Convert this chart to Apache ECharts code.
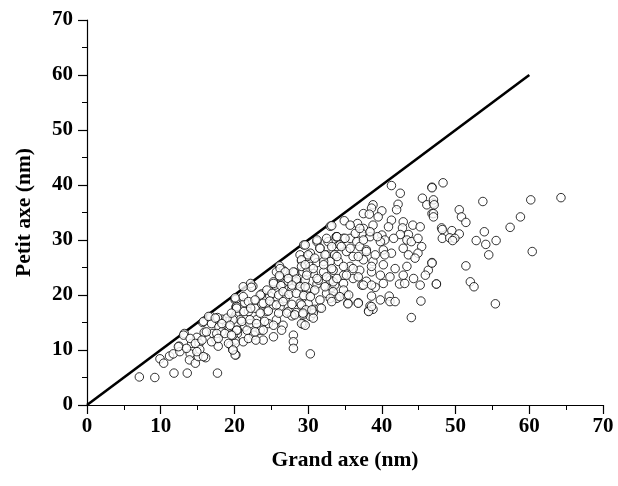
<!DOCTYPE html>
<html>
<head>
<meta charset="utf-8">
<script src="https://cdn.jsdelivr.net/npm/echarts@6/dist/echarts.min.js"></script>
<style>
  html, body { margin: 0; padding: 0; background: #fff; }
  #chart { width: 618px; height: 486px; }
</style>
</head>
<body>
<div id="chart"></div>
<script>
// grand axe (x), petit axe (y), in nm
const grandAxe = [
  7.1, 9.2, 11.8, 13.6, 17.7, 9.9, 10.4, 11.2, 11.7, 12.5, 13.2, 12.6, 14.2, 14.0, 13.9, 14.7, 15.1, 14.9, 15.2, 15.3,
  16.1, 15.7, 15.9, 16.8, 16.9, 17.1, 17.5, 17.8, 17.9, 18.3, 19.0, 19.3, 19.5, 19.8, 20.2, 20.1, 20.2, 20.2, 20.4, 20.1,
  18.3, 17.7,
  20.2, 21.2, 22.5, 23.7, 24.8, 25.5, 26.6, 27.8, 28.9, 29.8, 31.2, 32.5, 33.2, 20.3, 21.4, 21.9, 22.8, 23.7, 24.4, 25.3,
  26.2, 26.9, 27.3, 28.4, 28.9, 29.4, 30.0, 30.9, 31.6, 19.9, 20.8, 21.4, 20.4, 22.1, 23.0, 23.5, 22.6, 21.2, 20.1, 19.8,
  21.9, 23.9, 22.9, 25.3, 24.6, 25.7, 26.6, 28.0, 28.0, 28.0, 29.3, 30.3, 20.1, 27.8, 30.3, 30.7,
  33.6, 34.8, 33.4, 33.9, 35.2, 35.4, 36.8, 37.3, 38.6, 38.4, 38.2, 38.8, 39.1, 40.2, 39.8, 41.0, 41.1, 41.8, 42.4, 44.0,
  45.3, 45.2, 47.4, 43.1,
  33.0, 29.4, 26.1, 26.6, 25.7, 26.2, 22.2, 28.2, 29.3, 28.9, 29.9, 29.1, 30.3, 31.2, 31.6, 32.7, 32.5, 33.8, 33.9, 31.2,
  33.0, 30.7, 32.1, 33.4, 31.4, 33.0, 28.4, 25.3, 27.3, 30.3, 32.1,
  41.3, 42.5, 46.8, 45.5, 46.1, 47.0, 38.8, 38.6, 40.0, 42.2, 42.0, 46.8, 37.5, 38.3, 39.5, 34.9, 33.2, 36.7, 38.8, 41.3,
  42.9, 42.8, 44.2, 45.2, 40.9, 43.6, 42.5, 40.0, 40.4, 41.6, 43.4, 44.0, 44.9, 45.4, 37.5, 35.7, 33.9, 34.8, 35.7, 37.3,
  38.4, 36.6, 34.3, 35.2, 37.0, 37.9, 39.8, 40.2, 41.3, 40.4, 42.9, 43.6, 44.9, 44.5, 46.8, 46.3, 45.9, 43.4, 41.8, 40.2,
  38.8, 37.5, 36.1, 34.1, 33.6, 35.7, 37.0, 38.6, 39.8, 41.1, 42.9, 44.3, 34.8, 36.1, 37.9, 33.4,
  48.3, 46.8, 47.0, 47.1, 47.0, 47.0, 53.7, 60.2, 64.3, 50.5, 50.8, 51.4, 58.8, 57.4, 48.1, 48.2, 49.5, 50.5, 48.2, 49.2,
  49.9, 49.6, 53.9, 52.8, 54.1, 55.5, 54.5, 60.4, 46.8, 51.4, 47.4, 52.0, 52.5, 55.4,
  29.1, 29.1, 26.2, 26.9, 28.0, 29.9, 26.1, 27.3, 28.4, 29.6, 25.3, 26.3, 27.8, 28.9, 30.0, 22.3, 23.5, 24.4, 25.1, 26.0,
  26.6, 27.4, 28.4, 29.4, 20.1, 21.2, 21.9, 22.8, 23.9, 24.8, 25.7, 26.6, 27.8, 29.1, 29.7, 20.3, 21.3, 22.2, 23.5, 24.6,
  26.0, 27.1, 28.2, 29.3, 19.8, 21.0, 22.1, 23.0, 24.1, 25.3, 20.3, 21.7, 22.8, 23.9, 26.4, 29.1,
  29.6, 31.2, 32.5, 33.9, 35.0, 36.4, 37.0, 38.4, 39.4, 37.5, 34.5, 35.7, 33.2, 31.6, 30.0, 30.9, 32.3, 33.9, 36.8, 37.9,
  39.1, 29.6, 30.7, 32.1, 33.2, 34.8, 36.1, 38.6, 29.8, 31.2, 32.5, 33.9, 35.2, 36.8, 37.5, 38.6, 29.6, 30.9, 32.3, 33.4,
  34.8, 33.0, 34.3, 35.5, 30.3, 31.6,
  15.8, 16.5, 17.4, 19.0, 19.6, 18.3, 19.4, 16.2, 17.6, 18.7, 19.6, 13.1, 14.0, 14.7, 15.6, 16.9, 17.8, 19.2, 12.4, 13.5,
  14.9, 15.8, 19.8,
  29.6, 29.3, 30.7, 30.5, 31.8, 33.2, 35.4, 36.8, 38.2, 38.6
];
const petitAxe = [
  5.1, 5.0, 5.8, 5.8, 5.8, 8.4, 7.6, 8.9, 9.3, 10.7, 13.0, 9.7, 11.2, 9.3, 8.2, 7.6, 8.8, 12.3, 11.2, 10.1,
  8.6, 15.0, 13.2, 16.1, 14.8, 13.0, 11.9, 10.7, 14.2, 13.3, 15.2, 14.2, 10.9, 10.0, 9.1, 19.1, 17.8, 16.4, 13.0, 11.8,
  15.6, 15.9,
  19.2, 21.5, 21.6, 20.2, 19.8, 21.8, 22.1, 21.2, 22.1, 20.9, 22.0, 20.3, 21.4, 17.9, 18.6, 17.0, 17.6, 18.4, 17.0, 18.2,
  17.9, 19.4, 17.0, 16.8, 18.5, 16.8, 18.4, 17.4, 17.7, 15.8, 15.5, 14.2, 13.6, 14.8, 15.5, 13.6, 12.7, 11.5, 11.2, 12.7,
  12.1, 11.8, 11.8, 12.4, 14.8, 15.5, 14.5, 12.7, 11.5, 10.3, 14.7, 9.3, 9.1, 16.2, 16.1, 16.7,
  21.8, 22.1, 19.7, 19.4, 20.0, 18.5, 18.6, 21.8, 19.8, 18.0, 17.1, 17.4, 21.4, 22.1, 19.1, 19.8, 18.8, 18.8, 22.0, 15.9,
  18.9, 21.8, 22.0, 22.1,
  32.5, 29.1, 25.3, 24.5, 24.2, 23.3, 22.1, 24.1, 24.2, 27.3, 27.0, 26.2, 25.2, 29.7, 28.5, 29.7, 27.3, 30.6, 28.8, 25.9,
  26.1, 23.9, 24.2, 24.5, 22.7, 22.7, 22.4, 22.4, 22.5, 27.6, 26.1,
  39.9, 38.5, 39.6, 37.6, 36.4, 36.7, 36.4, 35.8, 35.3, 36.5, 35.5, 34.8, 34.8, 34.7, 34.2, 33.5, 32.6, 33.0, 32.7, 33.6,
  33.3, 32.2, 32.7, 32.4, 32.4, 31.0, 31.0, 30.9, 30.0, 30.3, 30.0, 29.7, 30.3, 28.8, 32.1, 32.7, 30.6, 30.3, 30.3, 31.2,
  30.6, 29.7, 29.1, 27.9, 28.8, 28.2, 29.7, 28.2, 27.6, 27.3, 28.5, 27.3, 27.6, 26.7, 25.9, 24.5, 23.6, 25.2, 24.8, 25.5,
  26.1, 26.4, 27.0, 26.1, 27.3, 25.2, 24.5, 24.2, 23.6, 23.3, 23.6, 23.0, 23.6, 23.0, 22.5, 22.4,
  40.4, 39.5, 37.3, 36.4, 34.8, 34.2, 37.0, 37.3, 37.7, 35.5, 34.2, 33.2, 34.2, 32.3, 32.2, 31.9, 31.7, 31.1, 30.3, 30.4,
  30.3, 29.9, 31.5, 29.9, 29.2, 29.9, 27.3, 27.9, 25.8, 25.3, 22.0, 22.4, 21.5, 18.4,
  26.4, 25.2, 24.8, 24.2, 24.2, 24.2, 23.5, 23.0, 22.9, 22.7, 22.1, 21.7, 21.8, 21.5, 21.3, 21.4, 20.0, 20.9, 20.3, 20.0,
  20.6, 20.1, 20.3, 19.9, 19.5, 19.7, 18.8, 19.1, 18.5, 18.9, 18.2, 18.8, 18.3, 18.2, 17.3, 17.6, 17.0, 17.6, 16.7, 17.1,
  16.7, 16.7, 16.4, 16.4, 15.5, 15.2, 15.5, 14.8, 15.2, 14.5, 13.6, 13.6, 13.3, 13.6, 13.6, 14.8,
  29.1, 30.0, 30.3, 30.6, 30.3, 31.2, 32.1, 31.5, 30.6, 30.0, 28.8, 28.5, 28.8, 28.5, 27.3, 26.7, 27.3, 27.0, 27.0, 27.9,
  27.3, 25.5, 24.8, 25.5, 24.8, 25.2, 24.8, 25.2, 23.6, 23.0, 23.3, 23.0, 23.6, 23.3, 21.8, 21.8, 21.5, 20.9, 21.5, 20.6,
  20.9, 19.4, 19.7, 20.0, 19.7, 19.1,
  15.2, 16.1, 15.8, 15.8, 16.7, 14.8, 14.5, 13.3, 13.0, 13.0, 12.7, 12.7, 12.1, 11.2, 11.8, 11.5, 12.1, 11.2, 10.6, 10.3,
  9.7, 8.8, 10.0,
  14.5, 16.7, 15.8, 17.3, 17.6, 18.8, 18.4, 18.5, 17.0, 17.9
];
// y = x reference line
const lineX = [0, 60];
const lineY = [0, 60];

const points = grandAxe.map((x, i) => [x, petitAxe[i]]);
const lineData = lineX.map((x, i) => [x, lineY[i]]);

const font = 'Liberation Serif, Times New Roman, serif';
const chart = echarts.init(document.getElementById('chart'));

const axisCommon = {
  type: 'value',
  min: 0,
  max: 70,
  interval: 10,
  splitLine: { show: false },
  axisLine: { show: true, lineStyle: { color: '#000', width: 1.2 } },
  axisTick: { show: true, inside: false, length: 9, lineStyle: { color: '#000', width: 1.2 } },
  minorTick: { show: true, splitNumber: 2, length: 5, lineStyle: { color: '#000', width: 1 } },
  axisLabel: { color: '#000', fontFamily: font, fontWeight: 'bold', fontSize: 21 },
  nameLocation: 'middle',
  nameTextStyle: { color: '#000', fontFamily: font, fontWeight: 'bold', fontSize: 21.5 }
};

chart.setOption({
  animation: false,
  backgroundColor: '#fff',
  grid: { left: 87, right: 15, top: 20, bottom: 81 },
  xAxis: Object.assign({}, axisCommon, {
    name: 'Grand axe (nm)',
    nameGap: 44,
    axisLabel: Object.assign({}, axisCommon.axisLabel, { margin: 11 })
  }),
  yAxis: Object.assign({}, axisCommon, {
    name: 'Petit axe (nm)',
    nameGap: 52,
    axisLabel: Object.assign({}, axisCommon.axisLabel, { margin: 14 })
  }),
  series: [
    {
      type: 'line',
      data: lineData,
      symbol: 'none',
      lineStyle: { color: '#000', width: 2.6 },
      z: 1
    },
    {
      type: 'scatter',
      data: points,
      symbol: 'circle',
      symbolSize: 8.5,
      itemStyle: { color: '#fff', borderColor: '#000', borderWidth: 1 },
      z: 2
    }
  ]
});
</script>
</body>
</html>
